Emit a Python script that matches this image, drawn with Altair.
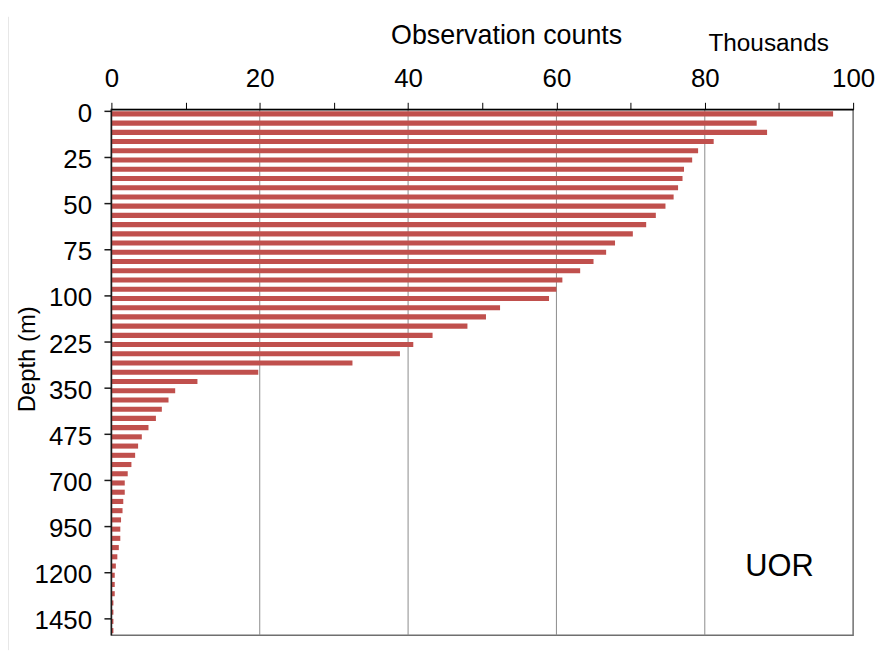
import altair as alt
import pandas as pd

# ---- data ----
depth_labels = ["0", "5", "10", "15", "20", "25", "30", "35", "40", "45", "50",
                "55", "60", "65", "70", "75", "80", "85", "90", "95", "100",
                "125", "150", "175", "200", "225", "250", "275", "300", "325",
                "350", "375", "400", "425", "450", "475", "500",
                "550", "600", "650", "700", "750", "800", "850", "900", "950",
                "1000", "1050", "1100", "1150", "1200", "1250", "1300", "1350",
                "1400", "1450", "1500"]

counts_thousands = [97.3, 87.0, 88.4, 81.2, 79.1, 78.3, 77.2, 77.0, 76.4, 75.8,
                    74.7, 73.4, 72.1, 70.3, 67.9, 66.7, 65.0, 63.2, 60.8, 60.0,
                    59.0, 52.4, 50.5, 48.0, 43.3, 40.7, 38.9, 32.5, 19.8, 11.6,
                    8.6, 7.7, 6.8, 6.0, 5.0, 4.1, 3.6, 3.2, 2.7, 2.2,
                    1.8, 1.8, 1.6, 1.5, 1.3, 1.2, 1.2, 1.0, 0.8, 0.6,
                    0.45, 0.45, 0.45, 0.27, 0.27, 0.27, 0.27]

labeled_depths = ["0", "25", "50", "75", "100", "225", "350", "475", "700",
                  "950", "1200", "1450"]
x_tick_values = [0, 10, 20, 30, 40, 50, 60, 70, 80, 90, 100]
grid_values = [20, 40, 60, 80]
unit_note = ["Thousands"]
panel_tag = ["UOR"]

df = pd.DataFrame({"depth": depth_labels, "count": counts_thousands})
grid_df = pd.DataFrame({"v": grid_values})
tick_df = pd.DataFrame({"depth": labeled_depths})

FONT = "Liberation Sans"
W, H = 746, 529

x_scale = alt.Scale(domain=[0, 100], nice=False, zero=True)
y_scale = alt.Scale(domain=depth_labels, paddingInner=0.45, paddingOuter=0.225)

x_axis = alt.Axis(
    orient="top",
    values=x_tick_values,
    labelExpr="datum.value % 20 == 0 ? datum.label : ''",
    labelFlush=False,
    labelOverlap=False,
    labelFontSize=26,
    labelBaseline="alphabetic",
    labelPadding=16,
    tickSize=7,
    tickColor="black",
    tickWidth=1,
    domainColor="black",
    domainWidth=1.5,
    grid=False,
    zindex=2,
    title="Observation counts",
    titleFontSize=27,
    titleX=397,
    titleY=-66,
    titleAlign="center",
    titleBaseline="alphabetic",
)

y_axis = alt.Axis(
    orient="left",
    values=labeled_depths,
    labelFontSize=26,
    labelPadding=20,
    ticks=False,
    domain=False,
    grid=False,
    zindex=2,
    title="Depth (m)",
    titleFontSize=24,
    titleX=-77,
    titleY=251,
    titleAlign="center",
    titleBaseline="alphabetic",
)

grid = alt.Chart(grid_df).mark_rule(color="#8c8c8c", strokeWidth=1).encode(
    x=alt.X("v:Q", scale=x_scale, axis=x_axis)
)

bars = alt.Chart(df).mark_bar(color="#C0504D").encode(
    x=alt.X("count:Q", scale=x_scale, axis=x_axis),
    y=alt.Y("depth:N", sort=depth_labels, scale=y_scale, axis=y_axis),
)

# left axis line and its tick marks
y_line = alt.Chart(pd.DataFrame({"a": [0]})).mark_rule(
    color="#1a1a1a", strokeWidth=1.5
).encode(x=alt.value(0), y=alt.value(0), y2=alt.value(H))

y_ticks = alt.Chart(tick_df).mark_rule(color="#1a1a1a", strokeWidth=1.5).encode(
    y=alt.Y("depth:N", sort=depth_labels, scale=y_scale, axis=y_axis, bandPosition=0),
    x=alt.value(-7),
    x2=alt.value(0),
)

thousands = alt.Chart(pd.DataFrame({"t": unit_note})).mark_text(
    font=FONT, fontSize=24.5, color="black", align="center", baseline="alphabetic"
).encode(text="t:N", x=alt.value(661), y=alt.value(-59))

tag = alt.Chart(pd.DataFrame({"t": panel_tag})).mark_text(
    font=FONT, fontSize=31, color="black", align="center", baseline="alphabetic"
).encode(text="t:N", x=alt.value(672), y=alt.value(469))

edge = alt.Chart(pd.DataFrame({"a": [0]})).mark_rule(
    color="#d0d0d0", strokeWidth=1
).encode(x=alt.value(-104), y=alt.value(-93), y2=alt.value(544))

chart = (
    alt.layer(edge, grid, bars, y_line, y_ticks, thousands, tag)
    .properties(
        width=W,
        height=H,
        autosize=alt.AutoSizeParams(type="none"),
        padding={"left": 104, "top": 100, "right": 22, "bottom": 15},
    )
    .configure_view(stroke="#6f6f6f", strokeWidth=1.5)
    .configure_axis(
        labelFont=FONT,
        titleFont=FONT,
        labelColor="black",
        titleColor="black",
        titleFontWeight="normal",
    )
)

chart.save("out.html", embed_options={"renderer": "svg", "actions": False})
